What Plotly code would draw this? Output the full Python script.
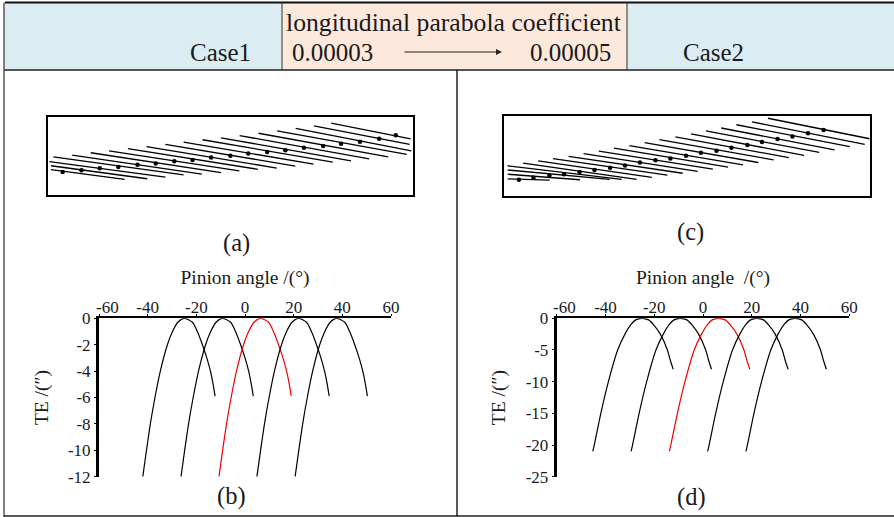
import plotly.graph_objects as go

W, H = 894, 517

# Panel (a): contact lines and contact points, read in the panel's own face units
a_left_x = [905, 853, 798, 742, 686, 629, 573, 517, 460, 405, 348, 292, 235, 180, 124, 67, 55, 60, 60]
a_left_y = [67, 75, 83, 91, 98, 105, 112, 118, 125, 132, 139, 145, 152, 158, 165, 171, 185, 198, 210]
a_right_x = [1145, 1142, 1147, 1133, 1077, 1020, 965, 910, 852, 797, 741, 684, 628, 573, 515, 460, 405, 350, 282]
a_right_y = [115, 132, 152, 163, 171, 177, 183, 187, 193, 199, 205, 209, 214, 219, 224, 226, 233, 238, 240]
a_dot_x = [95, 152, 207, 263, 321, 376, 432, 487, 543, 601, 655, 712, 767, 823, 881, 935, 992, 1050, 1100]
a_dot_y = [217, 212, 206, 202, 195, 191, 184, 180, 173, 167, 160, 156, 150, 143, 137, 130, 124, 115, 104]

# Panel (c)
c_left_x = [835, 787, 740, 694, 648, 603, 556, 508, 463, 417, 371, 325, 279, 234, 187, 142, 97, 50, 50, 50, 50]
c_left_y = [52, 63, 72, 82, 91, 100, 109, 118, 127, 136, 144, 153, 161, 169, 176, 183, 190, 198, 211, 224, 238]
c_right_x = [1142, 1127, 1082, 1036, 990, 944, 898, 852, 806, 760, 715, 669, 623, 578, 532, 485, 439, 394, 358, 268, 177]
c_right_y = [115, 132, 139, 149, 157, 166, 173, 180, 188, 195, 202, 208, 215, 221, 227, 234, 240, 240, 240, 241, 242]
c_dot_x = [84, 128, 176, 220, 267, 312, 359, 404, 449, 496, 541, 588, 633, 680, 725, 773, 817, 864, 909, 956, 1003]
c_dot_y = [241, 235, 228, 224, 217, 211, 204, 197, 188, 181, 176, 167, 158, 152, 143, 134, 125, 116, 108, 98, 88]

# Panel (b): transmission error curves
b_te = [-12, -10, -8, -6, -4, -2, -1, -0.3, 0, -0.3, -1, -2, -3, -4, -5, -5.9]
b_curves = [
    [-42.0, -40.5, -38.9, -37.0, -34.8, -31.9, -29.8, -27.6, -24.9, -21.6, -19.6, -17.5, -15.7, -14.2, -13.1, -12.3],
    [-26.3, -24.8, -23.2, -21.3, -19.1, -16.2, -14.1, -11.9, -9.2, -5.9, -3.9, -1.8, 0.0, 1.5, 2.6, 3.4],
    [-10.7, -9.2, -7.6, -5.7, -3.5, -0.6, 1.5, 3.7, 6.4, 9.7, 11.7, 13.8, 15.6, 17.1, 18.2, 19.0],
    [4.9, 6.4, 8.0, 9.9, 12.1, 15.0, 17.1, 19.3, 22.0, 25.3, 27.3, 29.4, 31.2, 32.7, 33.8, 34.6],
    [20.6, 22.1, 23.7, 25.6, 27.8, 30.7, 32.8, 35.0, 37.7, 41.0, 43.0, 45.1, 46.9, 48.4, 49.5, 50.3],
]

# Panel (d)
d_te = [-21, -20, -15, -10, -5, -2.5, -1, -0.25, 0, -0.25, -1, -2.5, -5, -6.5, -8.05]
d_curves = [
    [-45.2, -44.6, -41.9, -38.8, -35.0, -32.0, -29.6, -27.6, -25.1, -22.3, -20.3, -17.5, -14.6, -13.5, -12.2],
    [-29.5, -28.9, -26.2, -23.1, -19.3, -16.3, -13.9, -11.9, -9.4, -6.6, -4.6, -1.8, 1.1, 2.2, 3.5],
    [-13.8, -13.2, -10.5, -7.4, -3.6, -0.6, 1.8, 3.8, 6.3, 9.1, 11.1, 13.9, 16.8, 17.9, 19.2],
    [1.9, 2.5, 5.2, 8.3, 12.1, 15.1, 17.5, 19.5, 22.0, 24.8, 26.8, 29.6, 32.5, 33.6, 34.9],
    [17.6, 18.2, 20.9, 24.0, 27.8, 30.8, 33.2, 35.2, 37.7, 40.5, 42.5, 45.3, 48.2, 49.3, 50.6],
]

x_ticks = [-60, -40, -20, 0, 20, 40, 60]
b_y_ticks = [0, -2, -4, -6, -8, -10, -12]
d_y_ticks = [0, -5, -10, -15, -20, -25]
RED_CURVE = 2

SERIF = "Liberation Serif"
INK = "#1a1a1a"


def px_x(v):
    return v / W


def px_y(v):
    return 1 - v / H


def dom_x(a, b):
    return [px_x(a), px_x(b)]


def dom_y(top, bottom):
    return [px_y(bottom), px_y(top)]


fig = go.Figure()


def add_contact(lx, ly, rx, ry, dx, dy, ax):
    xs, ys = [], []
    for a, b, c, d in zip(lx, ly, rx, ry):
        xs += [a, c, None]
        ys += [b, d, None]
    fig.add_trace(go.Scatter(x=xs, y=ys, mode="lines", xaxis="x" + ax, yaxis="y" + ax,
                             line=dict(color="black", width=1.3), showlegend=False, hoverinfo="skip"))
    fig.add_trace(go.Scatter(x=dx, y=dy, mode="markers", xaxis="x" + ax, yaxis="y" + ax,
                             marker=dict(color="black", size=4.5, symbol="circle"),
                             showlegend=False, hoverinfo="skip"))


def add_curves(te, curves, ax):
    for i, xs in enumerate(curves):
        fig.add_trace(go.Scatter(x=xs, y=te, mode="lines", xaxis="x" + ax, yaxis="y" + ax,
                                 line=dict(color="#f00000" if i == RED_CURVE else "black",
                                           width=1.2, shape="spline", smoothing=0.7),
                                 showlegend=False, hoverinfo="skip"))


add_contact(a_left_x, a_left_y, a_right_x, a_right_y, a_dot_x, a_dot_y, "")
add_contact(c_left_x, c_left_y, c_right_x, c_right_y, c_dot_x, c_dot_y, "2")
add_curves(b_te, b_curves, "3")
add_curves(d_te, d_curves, "4")

box = dict(showline=True, mirror=True, linecolor="black", linewidth=2, showticklabels=False,
           ticks="", showgrid=False, zeroline=False, automargin=False)

tick_font = dict(family=SERIF, size=17, color=INK)
title_font = dict(family=SERIF, size=19.5, color=INK)


def top_axis(domain, anchor, title):
    # the end label is set beside its tick, clear of the y axis "0", by an annotation below
    return dict(domain=domain, anchor=anchor, side="top", range=[-60, 60], tickmode="array",
                tickvals=x_ticks, ticktext=["" if t == x_ticks[0] else str(t) for t in x_ticks],
                tickfont=tick_font, ticks="outside", ticklen=2, tickwidth=1, tickcolor="black",
                automargin=False, ticklabelstandoff=-5,
                showline=True, linecolor="black", linewidth=2, showgrid=False, zeroline=False,
                title=dict(text=title, font=title_font, standoff=8))


def left_axis(domain, anchor, vals, lo, title):
    return dict(domain=domain, anchor=anchor, range=[lo, 0], tickmode="array", tickvals=vals,
                ticktext=[str(t) for t in vals], tickfont=tick_font, ticks="outside", ticklen=2,
                tickwidth=1, tickcolor="black", showline=True, linecolor="black", linewidth=3,
                automargin=False, showgrid=False, zeroline=False, title=dict(text=title, font=title_font))


fig.update_layout(
    width=W, height=H, margin=dict(l=0, r=0, t=0, b=0, autoexpand=False),
    paper_bgcolor="white", plot_bgcolor="white",
    showlegend=False,
    xaxis=dict(domain=dom_x(47.7, 413), anchor="y", range=[50, 1152], **box),
    yaxis=dict(domain=dom_y(117, 195), anchor="x", range=[288, 48], **box),
    xaxis2=dict(domain=dom_x(504.3, 869.7), anchor="y2", range=[40, 1142], **box),
    yaxis2=dict(domain=dom_y(116.3, 195.7), anchor="x2", range=[290, 46], **box),
    xaxis3=top_axis(dom_x(99, 391), "y3", "Pinion angle /(°)"),
    yaxis3=left_axis(dom_y(318.3, 476.7), "x3", b_y_ticks, -12, "TE /(″)"),
    xaxis4=top_axis(dom_x(556.7, 849.3), "y4", "Pinion angle  /(°)"),
    yaxis4=left_axis(dom_y(318.3, 476.7), "x4", d_y_ticks, -25, "TE /(″)"),
)

shapes = [
    dict(type="rect", xref="paper", yref="paper", x0=px_x(5), x1=px_x(894), y0=px_y(70), y1=px_y(2.5),
         fillcolor="#dbedf3", line=dict(width=0), layer="below"),
    dict(type="rect", xref="paper", yref="paper", x0=px_x(282), x1=px_x(627), y0=px_y(70), y1=px_y(2.5),
         fillcolor="#fce9dc", line=dict(width=0), layer="below"),
]
for x0, y0, x1, y1, w, col in [
    (5, 2.5, 894, 2.5, 2, "#111111"),
    (4, 2.5, 4, 517, 1.5, "#555555"),
    (4, 70, 894, 70, 2, "#555555"),
    (4, 516, 894, 516, 1.5, "#222222"),
    (457, 70, 457, 516, 1.3, "#000000"),
    (282, 2.5, 282, 70, 1, "#333333"),
    (627, 2.5, 627, 70, 1, "#333333"),
]:
    shapes.append(dict(type="line", xref="paper", yref="paper", x0=px_x(x0), x1=px_x(x1), y0=px_y(y0), y1=px_y(y1),
                       line=dict(color=col, width=w)))
fig.update_layout(shapes=shapes)


def label(text, x, y, size=25):
    return dict(text=text, xref="paper", yref="paper", x=px_x(x), y=px_y(y), xanchor="center", yanchor="middle",
                showarrow=False, font=dict(family=SERIF, size=size, color=INK))


def end_tick_label(ax):
    return dict(text=str(x_ticks[0]), xref="x" + ax, yref="y" + ax, x=x_ticks[0], y=0, xshift=8, yshift=11,
                xanchor="center", yanchor="middle", showarrow=False, font=tick_font)


annotations = [
    label("Case1", 220, 53),
    label("Case2", 713, 53),
    label("longitudinal parabola coefficient", 453, 23, 25.7),
    label("0.00003", 332, 52),
    label("0.00005", 570, 52),
    label("(a)", 236, 243, 24.5),
    label("(b)", 232, 496, 24.5),
    label("(c)", 690, 232, 24.5),
    label("(d)", 691, 497, 24.5),
    end_tick_label("3"),
    end_tick_label("4"),
    dict(xref="paper", yref="paper", x=px_x(502), y=px_y(52), ax=-99, ay=0, text="", showarrow=True,
         arrowhead=2, arrowsize=1, arrowwidth=1.2, arrowcolor="#222222"),
]
fig.update_layout(annotations=annotations)

fig.write_html("out.html", config={"displayModeBar": False},
               post_script="document.body.style.margin='0';")
